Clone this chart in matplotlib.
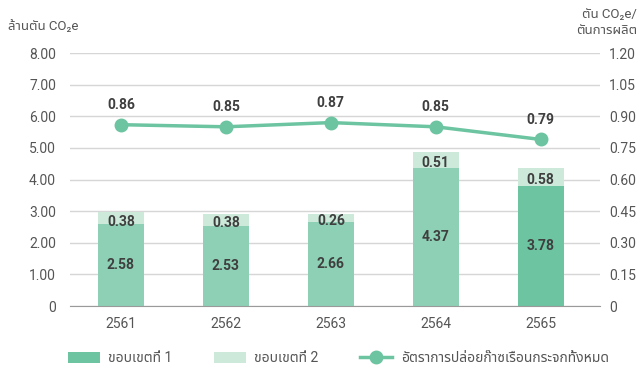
import matplotlib
matplotlib.use("Agg")
import matplotlib.pyplot as plt
from matplotlib.patches import Patch
from matplotlib.lines import Line2D
import numpy as np

plt.rcParams['font.family'] = ['Roboto', 'Noto Sans Thai', 'DejaVu Sans']

years = ['2561', '2562', '2563', '2564', '2565']
scope1 = [2.58, 2.53, 2.66, 4.37, 3.78]
scope2 = [0.38, 0.38, 0.26, 0.51, 0.58]
intensity = [0.86, 0.85, 0.87, 0.85, 0.79]
left_ticks = [0, 1, 2, 3, 4, 5, 6, 7, 8]
right_ticks = [0, 0.15, 0.30, 0.45, 0.60, 0.75, 0.90, 1.05, 1.20]

c_scope1_old = '#8dd0b5'
c_scope1 = '#6cc4a1'
c_scope2 = '#cce9da'
c_line = '#6cc4a1'
c_text = '#3f3f3f'
c_tick = '#555555'

fig = plt.figure(figsize=(6.42, 3.72), dpi=100)
ax = fig.add_axes([0.109, 0.1774, 0.825, 0.6801])
x = np.arange(len(years))

# older years in the lighter shade, latest year highlighted
colors1 = [c_scope1_old] * (len(years) - 1) + [c_scope1]
ax.bar(x, scope1, width=0.44, color=colors1, zorder=2)
ax.bar(x, scope2, width=0.44, bottom=scope1, color=c_scope2, zorder=2)

for xi, s1, s2 in zip(x, scope1, scope2):
    ax.text(xi, s1 / 2, f'{s1:.2f}', ha='center', va='center', fontsize=10,
            fontweight='bold', color=c_text, zorder=3)
    ax.text(xi, s1 + s2 / 2 - 0.1, f'{s2:.2f}', ha='center', va='center', fontsize=10,
            fontweight='bold', color=c_text, zorder=3)

ax.set_xlim(-0.486, 4.562)
ax.set_ylim(0, 8)
ax.set_yticks(left_ticks)
ax.set_yticklabels(['0'] + [f'{v:.2f}' for v in left_ticks[1:]])
ax.set_xticks(x)
ax.set_xticklabels(years)
ax.grid(axis='y', color='#d6d6d6', linewidth=1, zorder=0)
ax.set_axisbelow(True)
for s in ['top', 'left', 'right']:
    ax.spines[s].set_visible(False)
ax.spines['bottom'].set_color('#9a9a9a')
ax.tick_params(axis='both', length=0, labelsize=10, labelcolor=c_tick)
ax.tick_params(axis='y', pad=10)
ax.tick_params(axis='x', pad=8)

ax2 = ax.twinx()
ax2.set_ylim(0, 1.2)
ax2.set_yticks(right_ticks)
ax2.set_yticklabels(['0'] + [f'{v:.2f}' for v in right_ticks[1:]])
for s in ax2.spines.values():
    s.set_visible(False)
ax2.tick_params(axis='y', length=0, labelsize=10, labelcolor=c_tick, pad=7)
ax2.plot(x, intensity, color=c_line, linewidth=2.5, marker='o', markersize=9, zorder=4)
for xi, v in zip(x, intensity):
    ax2.annotate(f'{v:.2f}', (xi, v), xytext=(0, 14), textcoords='offset points',
                 ha='center', va='center', fontsize=10, fontweight='bold', color=c_text)

fig.text(0.012, 0.93, 'ล้านตัน CO₂e', fontsize=9.5, color=c_tick, ha='left', va='center')
fig.text(0.992, 0.94, 'ตัน CO₂e/\nตันการผลิต', fontsize=9.5, color=c_tick, ha='right',
         va='center', multialignment='right', linespacing=1.3)

handles = [
    Patch(facecolor=c_scope1, edgecolor='none'),
    Patch(facecolor=c_scope2, edgecolor='none'),
    Line2D([0], [0], color=c_line, linewidth=2.5, marker='o', markersize=9),
]
labels = ['ขอบเขตที่ 1', 'ขอบเขตที่ 2', 'อัตราการปล่อยก๊าซเรือนกระจกทั้งหมด']
fig.legend(handles, labels, loc='lower center', bbox_to_anchor=(0.527, -0.015), ncol=3,
           frameon=False, fontsize=10, labelcolor=c_tick, handlelength=2.3,
           handleheight=0.85, columnspacing=3.0, handletextpad=0.6)

fig.savefig('out.png', dpi=100)
